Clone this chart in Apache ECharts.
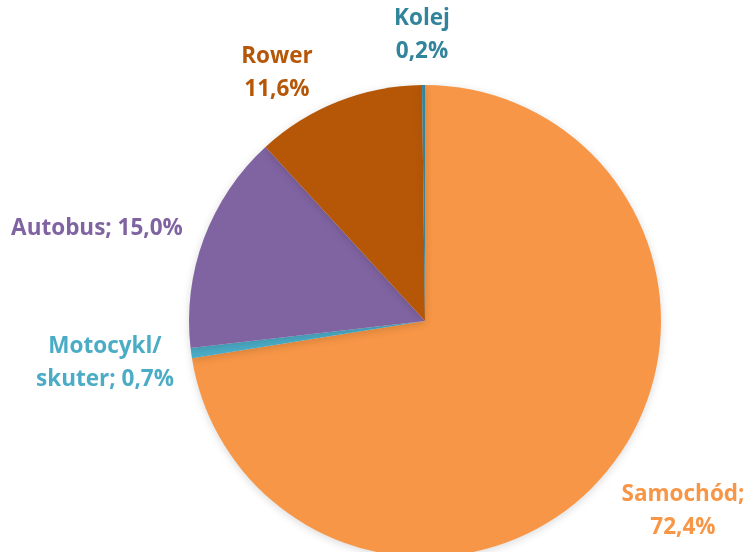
<!DOCTYPE html>
<html><head><meta charset="utf-8">
<script src="https://cdn.jsdelivr.net/npm/echarts@6/dist/echarts.min.js"></script>
<style>html,body{margin:0;padding:0;background:#fff}#c{width:747px;height:552px}</style>
</head><body><div id="c"></div>
<script>
const categories = ['Samochód', 'Motocykl/\nskuter', 'Autobus', 'Rower', 'Kolej'];
const values = [72.4, 0.7, 15.0, 11.6, 0.2];
const labelTexts = ['Samochód;\n72,4%', 'Motocykl/\nskuter; 0,7%', 'Autobus; 15,0%', 'Rower\n11,6%', 'Kolej\n0,2%'];
const colors = ['#F79646', '#4BACC6', '#8064A2', '#B65708', '#31849B'];
const labelPos = [[683, 511], [105, 363], [97, 229], [277, 73], [422, 35]];

const chart = echarts.init(document.getElementById('c'), null, {renderer: 'canvas'});
chart.setOption({
  animation: false,
  series: [{
    type: 'pie',
    center: [425, 321],
    radius: [0, 236],
    startAngle: 90,
    clockwise: true,
    data: categories.map((n, i) => ({
      name: n, value: values[i],
      itemStyle: {color: colors[i]},
      label: {color: colors[i], formatter: labelTexts[i]}
    })),
    itemStyle: {shadowBlur: 8, shadowColor: 'rgba(0,0,0,0.15)', shadowOffsetY: 2},
    label: {
      show: true, position: 'outside', overflow: 'none',
      fontFamily: 'Open Sans', fontWeight: 'bold', fontSize: 22.5, lineHeight: 33, align: 'center'
    },
    labelLine: {show: false},
    labelLayout: function (p) {
      const pos = labelPos[p.dataIndex];
      return {x: pos[0], y: pos[1], align: 'center', verticalAlign: 'middle'};
    },
    emphasis: {disabled: true}
  }]
});
</script></body></html>
